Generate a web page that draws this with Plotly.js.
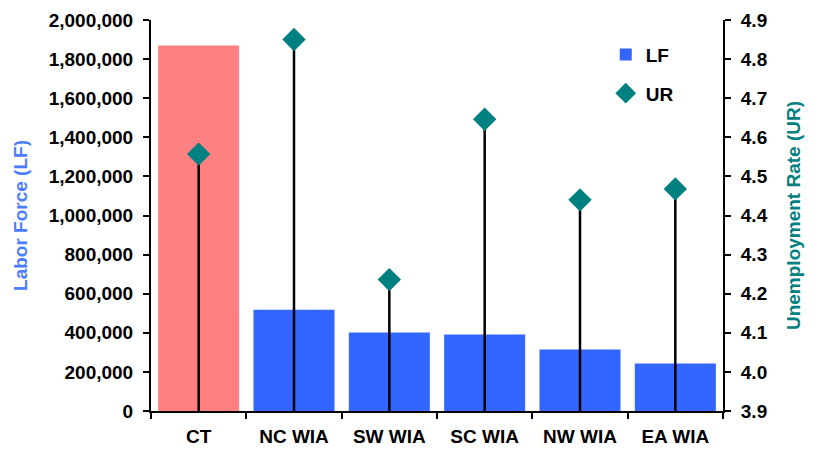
<!DOCTYPE html>
<html>
<head>
<meta charset="utf-8">
<script src="https://cdn.plot.ly/plotly-3.0.1.min.js"></script>
<style>html,body{margin:0;padding:0;background:#fff}#chart{width:820px;height:449px}</style>
</head>
<body>
<div id="chart"></div>
<script>
const categories = ["CT", "NC WIA", "SW WIA", "SC WIA", "NW WIA", "EA WIA"];
const laborForce = [1870000, 518000, 401000, 391000, 314000, 243000];
const unempRate = [4.557, 4.85, 4.236, 4.646, 4.44, 4.468];
const urBase = 3.9;

const fontFam = "'Liberation Sans', Arial, sans-serif";
const tickFont = {family: fontFam, size: 19, color: "#000", weight: "bold"};

const traces = [
  {
    type: "bar", name: "LF", showlegend: false, legendgroup: "lf",
    x: categories.slice(0, 1), y: laborForce.slice(0, 1),
    marker: {color: "#FF8080"}, yaxis: "y"
  },
  {
    type: "bar", name: "LF", legendgroup: "lf",
    x: categories.slice(1), y: laborForce.slice(1),
    marker: {color: "#3366FF"}, yaxis: "y"
  },
  {
    type: "scatter", mode: "markers", name: "UR", legendgroup: "ur",
    x: categories, y: unempRate, yaxis: "y2",
    marker: {symbol: "diamond", size: 18, color: "#008080"},
    error_y: {
      type: "data", symmetric: false,
      array: unempRate.map(() => 0),
      arrayminus: unempRate.map(v => v - urBase),
      color: "#000", thickness: 2.5, width: 0
    }
  }
];

const layout = {
  width: 820, height: 449,
  margin: {l: 151, r: 97, t: 20, b: 38},
  paper_bgcolor: "#fff", plot_bgcolor: "#fff",
  barmode: "overlay", bargap: 0.15,
  font: {family: fontFam, size: 19, color: "#000"},
  showlegend: true,
  legend: {
    x: 0.795, y: 0.96, xanchor: "left", yanchor: "top",
    font: {family: fontFam, size: 19, color: "#000", weight: "bold"},
    bgcolor: "rgba(0,0,0,0)", tracegroupgap: 11, itemwidth: 30
  },
  xaxis: {
    type: "category", tickson: "boundaries", ticks: "outside", ticklen: 6,
    tickwidth: 2, tickcolor: "#000", showline: true, linecolor: "#000", linewidth: 2,
    showgrid: false, tickfont: tickFont, fixedrange: true, ticklabelstandoff: 7
  },
  yaxis: {
    range: [0, 2000000], dtick: 200000, tickformat: ",d",
    ticks: "outside", ticklen: 6, tickwidth: 2, tickcolor: "#000",
    showline: true, linecolor: "#000", linewidth: 2, showgrid: false, zeroline: false,
    tickfont: tickFont, ticklabelstandoff: 6,
    title: {text: "Labor Force (LF)", font: {family: fontFam, size: 19, color: "#4A7DFF", weight: "bold"}, standoff: 16}
  },
  yaxis2: {
    overlaying: "y", side: "right",
    range: [3.9, 4.9], dtick: 0.1, tickformat: ".1f",
    ticks: "outside", ticklen: 6, tickwidth: 2, tickcolor: "#000",
    showline: true, linecolor: "#000", linewidth: 2, showgrid: false, zeroline: false,
    tickfont: tickFont, ticklabelstandoff: 6,
    title: {text: "Unemployment Rate (UR)", font: {family: fontFam, size: 19, color: "#008080", weight: "bold"}, standoff: 20}
  }
};

Plotly.newPlot("chart", traces, layout, {displayModeBar: false, staticPlot: true});
</script>
</body>
</html>
